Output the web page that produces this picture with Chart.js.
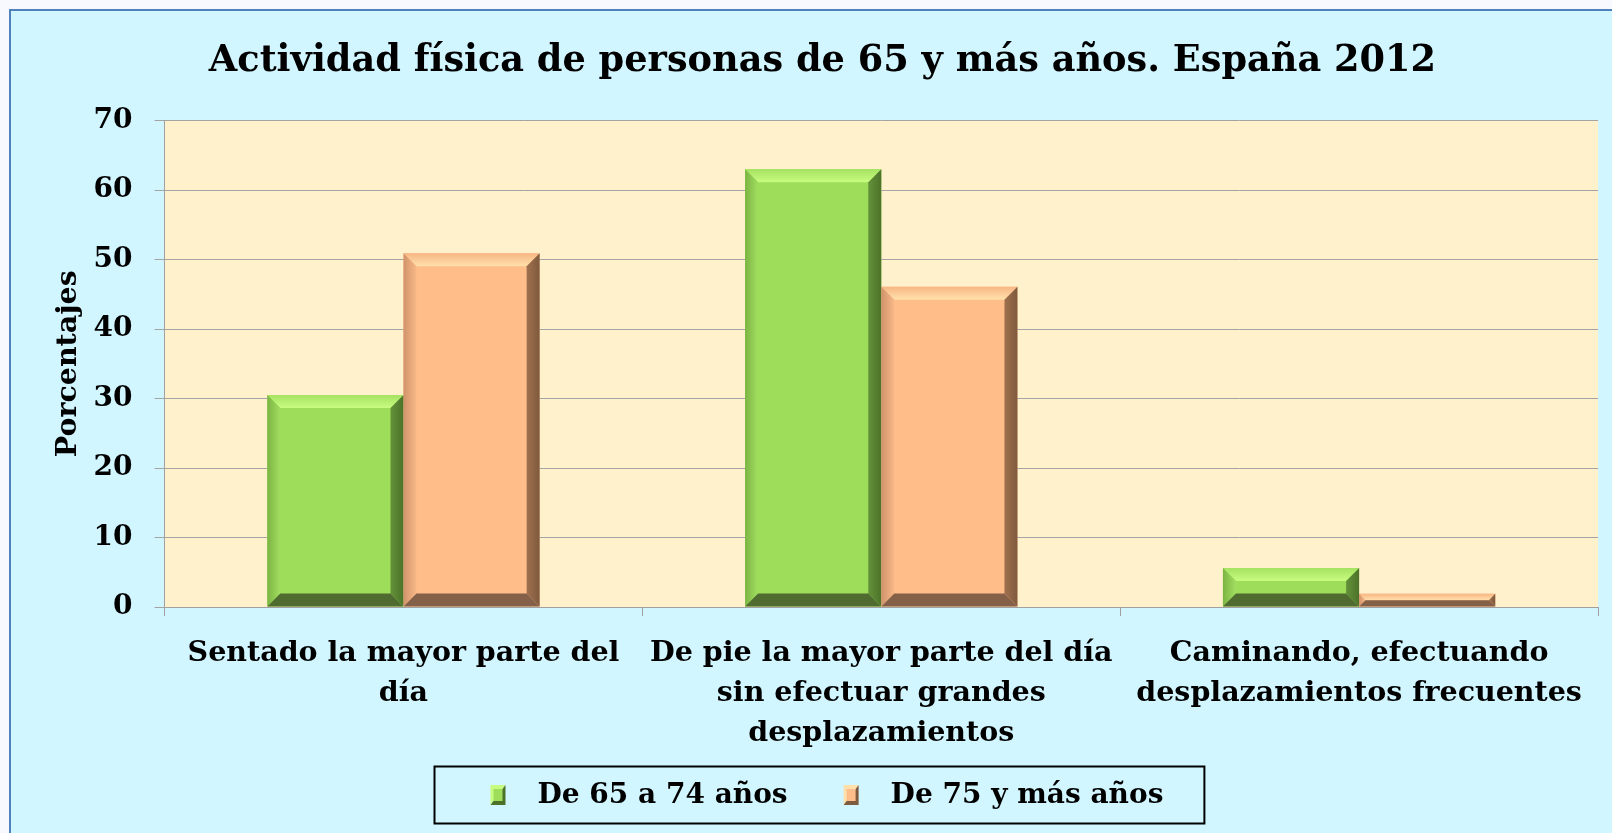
<!DOCTYPE html>
<html>
<head>
<meta charset="utf-8">
<script src="https://cdn.jsdelivr.net/npm/chart.js@4"></script>
<style>
  body { margin: 0; background: #f7f9fe; overflow: hidden; }
  #marco {
    position: absolute; left: 9px; top: 9px;
    width: 1610px; height: 830px;
    border-left: 2px solid #4f81bd; border-top: 2px solid #4f81bd;
    background: #d1f6ff;
  }
  #grafico { display: block; }
</style>
</head>
<body>
<div id="marco"><canvas id="grafico" width="1601" height="822"></canvas></div>
<script>
const categorias = [
  ["Sentado la mayor parte del", "día"],
  ["De pie la mayor parte del día", "sin efectuar grandes", "desplazamientos"],
  ["Caminando, efectuando", "desplazamientos frecuentes"],
];
const de65a74 = [30.5, 63.0, 5.6];
const de75ymas = [50.9, 46.1, 1.9];
const etiquetas = ["De 65 a 74 años", "De 75 y más años"];

const fuente = "'DejaVu Serif', serif";

// colores del bisel de cada serie
const biseles = [
  { base: "#9edd5a", top: ["#a6e262", "#c8fc80"], left: ["#7cb443", "#a2de60"], right: ["#4c7229", "#64923a"], bottom: "#4f6b30" },
  { base: "#ffbd8a", top: ["#f7b684", "#ffe0aa"], left: ["#d0936a", "#f8b888"], right: ["#7e5a3e", "#a0704e"], bottom: "#846049" },
];

const fondoPlot = {
  id: "fondoPlot",
  beforeDraw(chart) {
    const { ctx, chartArea: a } = chart;
    ctx.save();
    ctx.fillStyle = "#fff1cc";
    ctx.fillRect(a.left, a.top, a.right - a.left, a.bottom - a.top);
    ctx.restore();
  },
};

const bisel = {
  id: "bisel",
  afterDatasetsDraw(chart) {
    const ctx = chart.ctx;
    chart.data.datasets.forEach((ds, i) => {
      const c = biseles[i];
      chart.getDatasetMeta(i).data.forEach((bar) => {
        const l = bar.x - bar.width / 2, r = bar.x + bar.width / 2;
        const t = bar.y, b = bar.base;
        const h = b - t;
        const s = Math.min(13, h / 2, bar.width / 2);
        const poly = (pts, fill) => {
          ctx.beginPath();
          ctx.moveTo(pts[0][0], pts[0][1]);
          pts.slice(1).forEach((p) => ctx.lineTo(p[0], p[1]));
          ctx.closePath();
          ctx.fillStyle = fill;
          ctx.fill();
        };
        ctx.save();
        let g = ctx.createLinearGradient(0, t, 0, t + s);
        g.addColorStop(0, c.top[0]); g.addColorStop(1, c.top[1]);
        poly([[l, t], [r, t], [r - s, t + s], [l + s, t + s]], g);
        g = ctx.createLinearGradient(l, 0, l + s, 0);
        g.addColorStop(0, c.left[0]); g.addColorStop(1, c.left[1]);
        poly([[l, t], [l + s, t + s], [l + s, b - s], [l, b]], g);
        g = ctx.createLinearGradient(r, 0, r - s, 0);
        g.addColorStop(0, c.right[0]); g.addColorStop(1, c.right[1]);
        poly([[r, t], [r - s, t + s], [r - s, b - s], [r, b]], g);
        poly([[l, b], [r, b], [r - s, b - s], [l + s, b - s]], c.bottom);
        ctx.restore();
      });
    });
  },
};

const leyenda = {
  id: "leyenda",
  afterDraw(chart) {
    const ctx = chart.ctx;
    ctx.save();
    ctx.font = "bold 28px " + fuente;
    const w = etiquetas.map((t) => ctx.measureText(t).width);
    const marca = 15, hueco = 32, sep = 56;
    const ancho = 56 + marca + hueco + w[0] + sep + marca + hueco + w[1] + 41;
    const alto = 57;
    const x0 = Math.round(chart.width / 2 - ancho / 2 + 7) + 0.5;
    const y0 = chart.height - 67 + 0.5;
    ctx.strokeStyle = "#000";
    ctx.lineWidth = 2;
    ctx.strokeRect(x0, y0, ancho, alto);
    let x = x0 + 56;
    const ym = y0 + alto / 2;
    etiquetas.forEach((t, i) => {
      const c = biseles[i];
      ctx.fillStyle = c.top[1];
      ctx.beginPath(); ctx.moveTo(x, ym - 10); ctx.lineTo(x + marca, ym - 10); ctx.lineTo(x, ym + 10); ctx.closePath(); ctx.fill();
      ctx.fillStyle = c.right[0];
      ctx.beginPath(); ctx.moveTo(x + marca, ym - 10); ctx.lineTo(x + marca, ym + 10); ctx.lineTo(x, ym + 10); ctx.closePath(); ctx.fill();
      ctx.fillStyle = c.base;
      ctx.fillRect(x + 3, ym - 6, marca - 6, 12);
      x += marca + hueco;
      ctx.fillStyle = "#000";
      ctx.textBaseline = "middle";
      ctx.fillText(t, x, ym + 1);
      x += w[i] + sep;
    });
    ctx.restore();
  },
};

new Chart(document.getElementById("grafico"), {
  type: "bar",
  data: {
    labels: categorias,
    datasets: [
      { label: etiquetas[0], data: de65a74, backgroundColor: biseles[0].base },
      { label: etiquetas[1], data: de75ymas, backgroundColor: biseles[1].base },
    ],
  },
  options: {
    responsive: false,
    animation: false,
    categoryPercentage: 0.57,
    barPercentage: 1.0,
    layout: { padding: { left: 36, right: 14, top: 0, bottom: 61 } },
    plugins: {
      legend: { display: false },
      tooltip: { enabled: false },
      title: {
        display: true,
        text: "Actividad física de personas de 65 y más años. España 2012",
        color: "#000",
        font: { family: fuente, size: 36.7, weight: "bold", lineHeight: 1.2 },
        padding: { top: 28, bottom: 37.5 },
      },
    },
    scales: {
      x: {
        grid: { drawOnChartArea: false, color: "#a0a0a0", tickLength: 9 },
        border: { color: "#a0a0a0" },
        ticks: {
          color: "#000",
          maxRotation: 0,
          autoSkip: false,
          padding: 18,
          font: { family: fuente, size: 28.5, weight: "bold", lineHeight: 1.4035 },
        },
      },
      y: {
        min: 0,
        max: 70,
        grid: { color: "#a4a4a4", tickLength: 10 },
        border: { color: "#a0a0a0" },
        ticks: {
          stepSize: 10,
          color: "#000",
          padding: 22,
          font: { family: fuente, size: 28, weight: "bold" },
        },
        title: {
          display: true,
          text: "Porcentajes",
          color: "#000",
          font: { family: fuente, size: 28.5, weight: "bold" },
          padding: { top: 4, bottom: -13.6 },
        },
      },
    },
  },
  plugins: [fondoPlot, bisel, leyenda],
});
</script>
</body>
</html>
